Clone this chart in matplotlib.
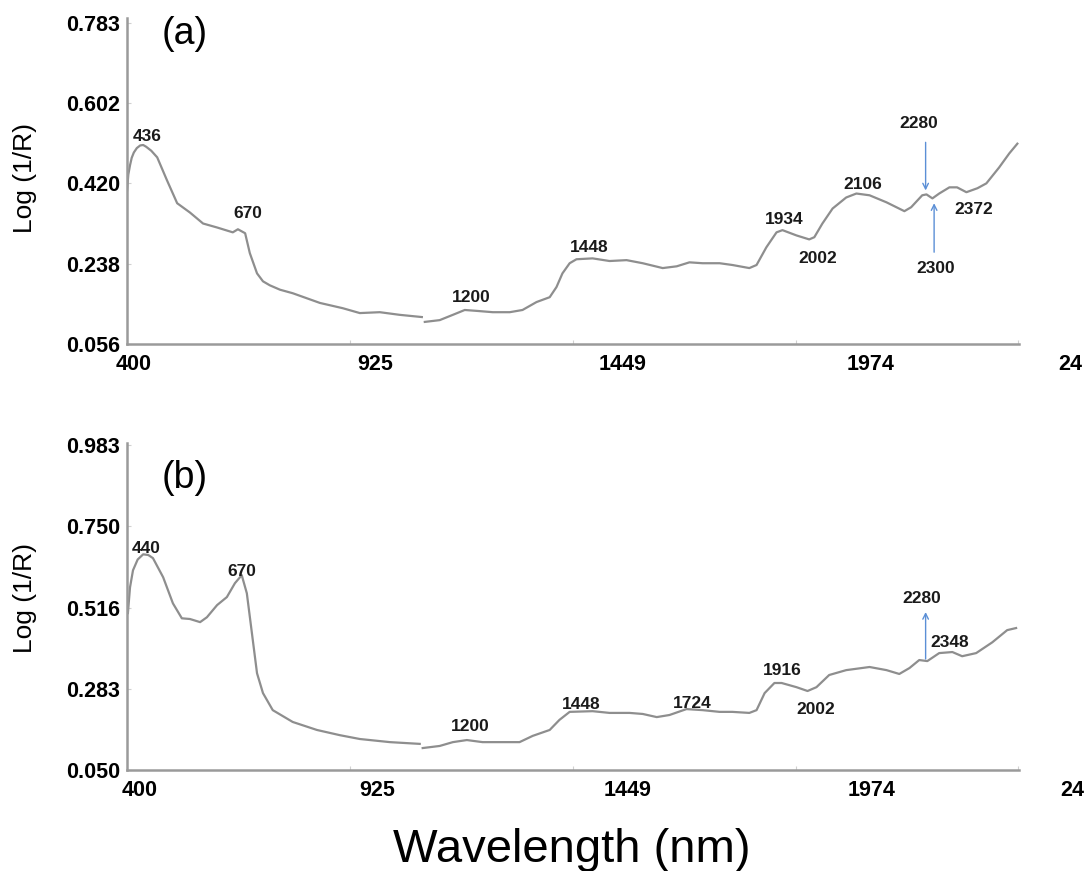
import numpy as np
import matplotlib
matplotlib.use('Agg')
import matplotlib.pyplot as plt

plt.rcParams['font.family'] = ['Liberation Sans', 'DejaVu Sans']

nan = np.nan

# spectrum (a): wavelength (nm) and log(1/R); NaN marks the detector break
wl_a = [400, 403, 407, 411, 416, 423, 431, 438, 445, 457, 471, 494, 518, 548,
        579, 612, 649, 661, 678, 689, 706, 720, 736, 760, 790, 854, 908, 948,
        995, 1042, 1094, nan,
        1101, 1136, 1167, 1195, 1223, 1261, 1301, 1331, 1364, 1395, 1411, 1425,
        1442, 1458, 1496, 1536, 1576, 1614, 1661, 1694, 1724, 1755, 1795, 1825,
        1865, 1882, 1905, 1929, 1943, 1976, 2006, 2018, 2037, 2061, 2093, 2117,
        2148, 2188, 2230, 2246, 2272, 2282, 2296, 2312, 2336, 2354, 2376, 2402,
        2423, 2453, 2477, 2496]
logr_a = [0.404, 0.440, 0.461, 0.478, 0.490, 0.500, 0.506, 0.507, 0.503, 0.494,
          0.479, 0.427, 0.375, 0.354, 0.329, 0.320, 0.309, 0.316, 0.307, 0.262,
          0.216, 0.198, 0.189, 0.179, 0.171, 0.149, 0.137, 0.126, 0.128, 0.122,
          0.117, nan,
          0.106, 0.110, 0.122, 0.133, 0.131, 0.128, 0.128, 0.133, 0.151, 0.162,
          0.185, 0.216, 0.239, 0.248, 0.250, 0.244, 0.246, 0.239, 0.228, 0.232,
          0.241, 0.239, 0.239, 0.235, 0.228, 0.235, 0.275, 0.309, 0.314, 0.302,
          0.293, 0.298, 0.329, 0.363, 0.388, 0.397, 0.393, 0.377, 0.357, 0.366,
          0.393, 0.395, 0.386, 0.397, 0.411, 0.411, 0.400, 0.409, 0.420, 0.456,
          0.488, 0.510]

# spectrum (b)
wl_b = [402, 407, 414, 425, 438, 450, 461, 485, 508, 529, 548, 572, 588, 612,
        635, 654, 670, 682, 694, 706, 720, 743, 790, 847, 901, 948, 1019, 1089,
        nan,
        1096, 1136, 1167, 1200, 1237, 1284, 1324, 1355, 1395, 1418, 1442, 1496,
        1536, 1583, 1614, 1647, 1677, 1717, 1755, 1795, 1825, 1865, 1882, 1901,
        1924, 1941, 1976, 2002, 2023, 2053, 2093, 2148, 2188, 2218, 2242, 2265,
        2284, 2312, 2343, 2366, 2399, 2437, 2472, 2493]
logr_b = [0.501, 0.575, 0.624, 0.655, 0.670, 0.668, 0.659, 0.604, 0.529, 0.486,
          0.484, 0.475, 0.489, 0.524, 0.547, 0.587, 0.610, 0.558, 0.443, 0.328,
          0.271, 0.222, 0.188, 0.165, 0.150, 0.139, 0.130, 0.125, nan,
          0.113, 0.119, 0.130, 0.136, 0.130, 0.130, 0.130, 0.148, 0.165, 0.194,
          0.217, 0.219, 0.214, 0.214, 0.211, 0.202, 0.208, 0.225, 0.222, 0.217,
          0.217, 0.214, 0.222, 0.271, 0.300, 0.300, 0.288, 0.277, 0.288, 0.323,
          0.337, 0.346, 0.337, 0.326, 0.343, 0.366, 0.363, 0.386, 0.389, 0.377,
          0.386, 0.417, 0.452, 0.458]

yticks_a = [0.056, 0.238, 0.420, 0.602, 0.783]
yticks_b = [0.050, 0.283, 0.516, 0.750, 0.983]
xtick_labels = ['400', '925', '1449', '1974', '24']

# band labels: text, x, y (data units)
bands_a = [('436', 447, 0.526), ('670', 685, 0.352), ('1200', 1211, 0.162),
           ('1448', 1489, 0.275), ('1934', 1948, 0.339), ('2002', 2027, 0.250),
           ('2106', 2131, 0.418), ('2280', 2265, 0.555), ('2300', 2303, 0.228),
           ('2372', 2394, 0.361)]
bands_b = [('440', 445, 0.687), ('670', 670, 0.621), ('1200', 1207, 0.176),
           ('1448', 1470, 0.239), ('1724', 1731, 0.242), ('1916', 1943, 0.337),
           ('2002', 2021, 0.225), ('2280', 2270, 0.544), ('2348', 2336, 0.417)]

# arrows: x, y_start, y_end
arrows_a = [(2280, 0.513, 0.404), (2300, 0.264, 0.375)]
arrows_b = [(2280, 0.369, 0.504)]

fig = plt.figure(figsize=(10.84, 8.71), dpi=100)
ax_a = fig.add_axes([0.1172, 0.6051, 0.8229, 0.3743])
ax_b = fig.add_axes([0.1172, 0.1160, 0.8229, 0.3754])

line_col = '#8e8e8e'
arrow_col = '#5b8fd6'

panels = [
    (ax_a, wl_a, logr_a, yticks_a, (0.056, 0.795), bands_a, arrows_a, '(a)', 0.951,
     [0.007, 0.278, 0.556, 0.833, 1.057]),
    (ax_b, wl_b, logr_b, yticks_b, (0.050, 0.990), bands_b, arrows_b, '(b)', 0.893,
     [0.014, 0.280, 0.561, 0.835, 1.060]),
]

for ax, wl, logr, yt, ylim, bands, arrows, tag, tag_y, xlab_pos in panels:
    ax.plot(wl, logr, color=line_col, lw=1.6)
    ax.set_xlim(400, 2500)
    ax.set_ylim(*ylim)

    for s in ['top', 'right']:
        ax.spines[s].set_visible(False)
    for s in ['left', 'bottom']:
        ax.spines[s].set_color('#9a9a9a')
        ax.spines[s].set_linewidth(1.8)

    ax.set_yticks(yt)
    ax.set_yticklabels(['%.3f' % v for v in yt], fontsize=15.5, fontweight='bold')
    ax.set_xticks([925, 1449, 1974, 2498])
    ax.set_xticklabels([])
    ax.tick_params(direction='in', length=3, color='#d0d0d0', pad=5)

    # x labels sit slightly apart from the tick marks
    for lab, xp in zip(xtick_labels, xlab_pos):
        ax.annotate(lab, xy=(xp, 0), xycoords='axes fraction',
                    xytext=(0, -15), textcoords='offset points',
                    ha='center', va='center', fontsize=15.5, fontweight='bold',
                    annotation_clip=False)

    for txt, x, y in bands:
        ax.text(x, y, txt, ha='center', va='center', fontsize=12.5,
                fontweight='bold', color='#1a1a1a')

    for x, y0, y1 in arrows:
        ax.annotate('', xy=(x, y1), xytext=(x, y0),
                    arrowprops=dict(arrowstyle='->', color=arrow_col, lw=1,
                                    mutation_scale=10, shrinkA=0, shrinkB=0))

    ax.text(0.065, tag_y, tag, transform=ax.transAxes, ha='center',
            va='center', fontsize=27)

fig.text(0.023, 0.796, 'Log (1/R)', rotation=90, ha='center', va='center', fontsize=19)
fig.text(0.023, 0.313, 'Log (1/R)', rotation=90, ha='center', va='center', fontsize=19)
fig.text(0.527, 0.0103, 'Wavelength (nm)', ha='center', va='baseline', fontsize=34)

fig.savefig('out.png', dpi=100)
